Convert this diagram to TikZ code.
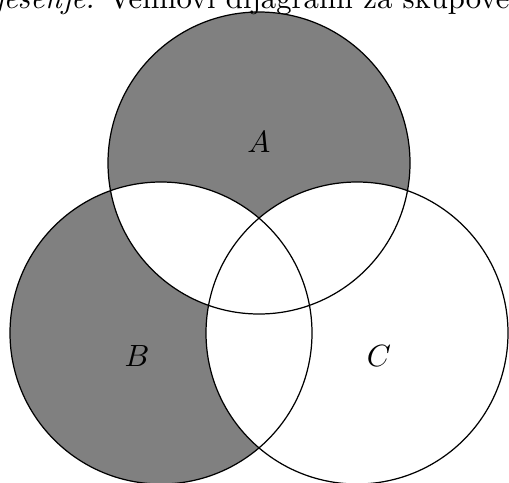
\documentclass[tikz,border=0pt]{standalone}

\begin{document}
\begin{tikzpicture}[x=0.3257pt,y=-0.3257pt,line width=.4pt]
\clip (0,0) rectangle (509,482);
\coordinate (A) at (259,163); \coordinate (B) at (161,333); \coordinate (C) at (357,333);
\fill[gray,even odd rule] (A) circle[radius=151] (B) circle[radius=151];
\fill[white] (C) circle[radius=151];
\draw (A) circle[radius=151] (B) circle[radius=151] (C) circle[radius=151];
\node (la) at (259,142) {$A$}; \node (lb) at (137,356) {$B$}; \node (lc) at (379,356) {$C$};
\node[anchor=base east,inner sep=0pt] (title) at (510,9) {\textit{Rješenje:} Vennovi dijagrami za skupove};
\end{tikzpicture}
\end{document}
